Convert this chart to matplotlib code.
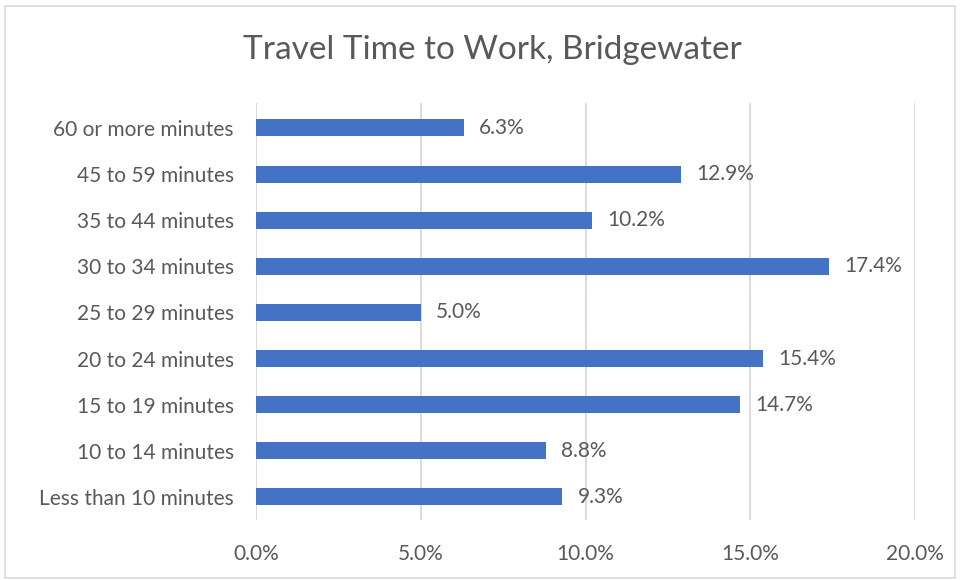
import matplotlib.pyplot as plt
from matplotlib.patches import Rectangle
from matplotlib.ticker import FuncFormatter

plt.rcParams['font.family'] = ['Lato', 'DejaVu Sans']

categories = ["Less than 10 minutes", "10 to 14 minutes", "15 to 19 minutes",
              "20 to 24 minutes", "25 to 29 minutes", "30 to 34 minutes",
              "35 to 44 minutes", "45 to 59 minutes", "60 or more minutes"]
shares = [9.3, 8.8, 14.7, 15.4, 5.0, 17.4, 10.2, 12.9, 6.3]
xticks = [0, 5, 10, 15, 20]

text_col = "#595959"
grid_col = "#d9d9d9"
bar_col = "#4472c4"

fig = plt.figure(figsize=(9.6, 5.8), dpi=100)
ax = fig.add_axes([0.2667, 0.1034, 0.6864, 0.7190])

ypos = list(range(len(categories)))
ax.barh(ypos, shares, height=0.37, color=bar_col, zorder=3)

for y, v in zip(ypos, shares):
    ax.annotate(f"{v:.1f}%", (v, y), xytext=(11, 0), textcoords="offset points",
                va="center", ha="left", fontsize=15, color=text_col)

ax.set_xlim(0, 20)
ax.set_ylim(-0.5, len(categories) - 0.46)
ax.set_xticks(xticks)
ax.xaxis.set_major_formatter(FuncFormatter(lambda v, p: f"{v:.1f}%"))
ax.set_yticks(ypos)
ax.set_yticklabels(categories)
ax.tick_params(axis="both", length=0, labelsize=15, labelcolor=text_col)
ax.tick_params(axis="x", pad=17)
ax.tick_params(axis="y", pad=16)
ax.grid(axis="x", color=grid_col, linewidth=1.3, zorder=0)
for s in ax.spines.values():
    s.set_visible(False)

fig.text(0.513, 0.914, "Travel Time to Work, Bridgewater", ha="center", va="center",
         fontsize=24, color=text_col)

fig.patches.append(Rectangle((5 / 960, 2 / 580), 950 / 960, 572 / 580,
                             transform=fig.transFigure, fill=False,
                             edgecolor=grid_col, linewidth=1.2))

fig.savefig("out.png", dpi=100)
